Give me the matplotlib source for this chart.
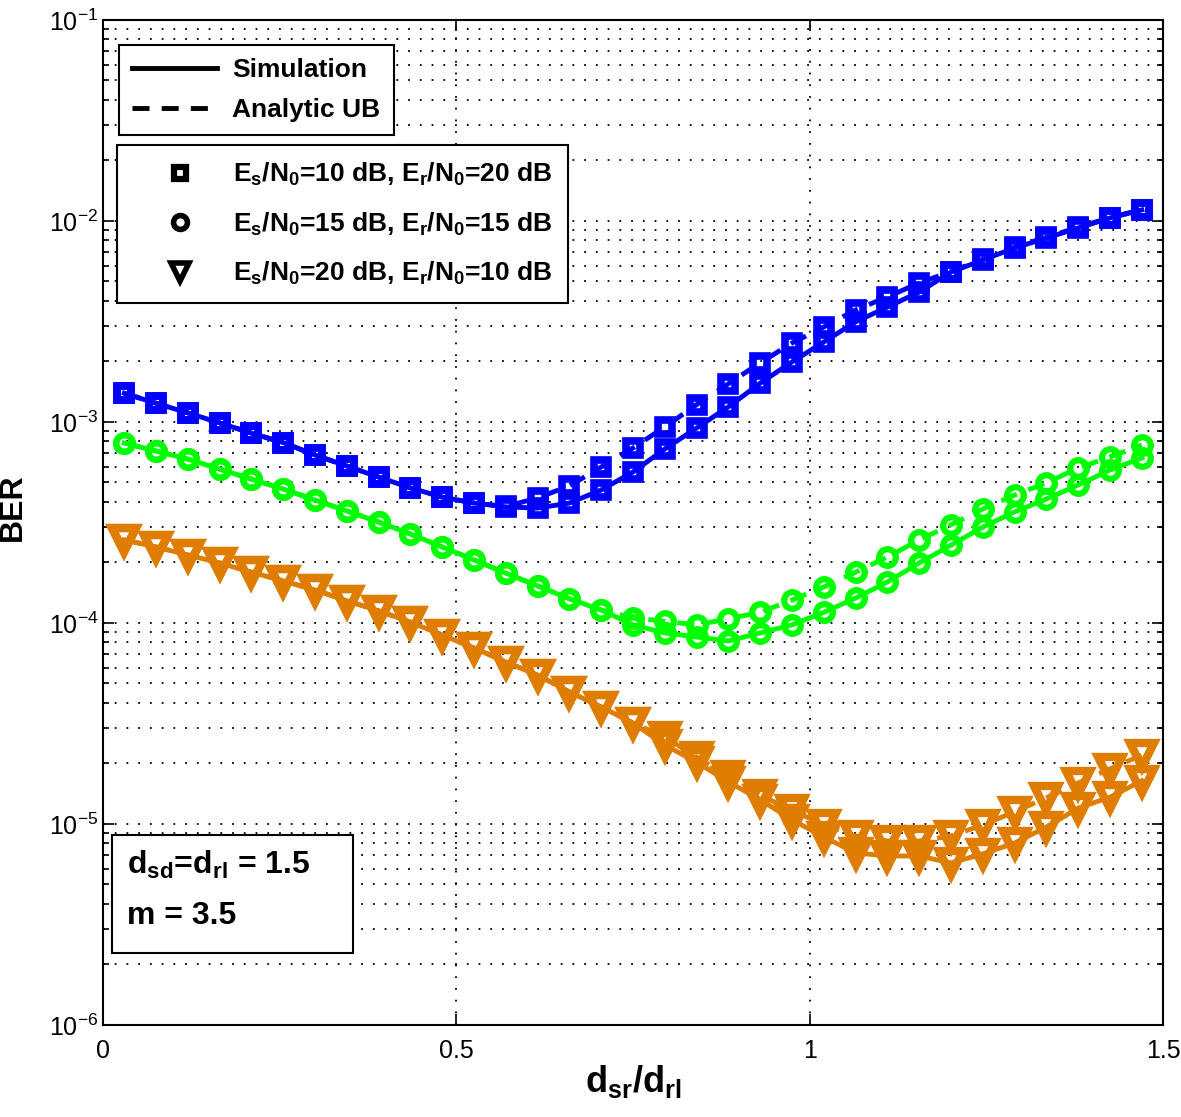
import numpy as np
import matplotlib
matplotlib.use('Agg')
import matplotlib.pyplot as plt
from matplotlib.lines import Line2D
from matplotlib.patches import Rectangle

plt.rcParams['font.family'] = ['Liberation Sans', 'DejaVu Sans']
plt.rcParams['mathtext.fontset'] = 'custom'
plt.rcParams['mathtext.rm'] = 'Liberation Sans'
plt.rcParams['mathtext.bf'] = 'Liberation Sans:bold'
plt.rcParams['mathtext.it'] = 'Liberation Sans:italic'

# distance ratio d_sr/d_rl
d_ratio = [0.03, 0.075, 0.12, 0.165, 0.21, 0.255, 0.30, 0.345, 0.39, 0.435,
           0.48, 0.525, 0.57, 0.615, 0.66, 0.705, 0.75, 0.795, 0.84, 0.885,
           0.93, 0.975, 1.02, 1.065, 1.11, 1.155, 1.20, 1.245, 1.29, 1.335,
           1.38, 1.425, 1.47]

# Es/N0=10 dB, Er/N0=20 dB
blue_sim = [1.39e-3, 1.24e-3, 1.11e-3, 9.9e-4, 8.8e-4, 7.9e-4, 6.85e-4, 6.04e-4,
            5.32e-4, 4.70e-4, 4.23e-4, 3.95e-4, 3.78e-4, 3.73e-4, 3.95e-4, 4.59e-4,
            5.64e-4, 7.34e-4, 9.33e-4, 1.19e-3, 1.56e-3, 1.99e-3, 2.50e-3, 3.15e-3,
            3.73e-3, 4.43e-3, 5.57e-3, 6.40e-3, 7.34e-3, 8.23e-3, 9.23e-3, 1.035e-2,
            1.135e-2]
blue_ub = [1.39e-3, 1.24e-3, 1.11e-3, 9.9e-4, 8.8e-4, 7.9e-4, 6.85e-4, 6.04e-4,
           5.32e-4, 4.70e-4, 4.23e-4, 3.95e-4, 3.80e-4, 4.19e-4, 4.81e-4, 5.97e-4,
           7.43e-4, 9.45e-4, 1.22e-3, 1.55e-3, 1.97e-3, 2.47e-3, 2.97e-3, 3.61e-3,
           4.19e-3, 4.92e-3, 5.60e-3, 6.45e-3, 7.40e-3, 8.30e-3, 9.30e-3, 1.04e-2,
           1.14e-2]

# Es/N0=15 dB, Er/N0=15 dB
green_sim = [7.86e-4, 7.17e-4, 6.54e-4, 5.83e-4, 5.20e-4, 4.64e-4, 4.09e-4, 3.61e-4,
             3.18e-4, 2.77e-4, 2.39e-4, 2.06e-4, 1.77e-4, 1.53e-4, 1.32e-4, 1.16e-4,
             9.78e-5, 8.92e-5, 8.52e-5, 8.14e-5, 8.92e-5, 9.78e-5, 1.13e-4, 1.33e-4,
             1.60e-4, 1.99e-4, 2.44e-4, 3.00e-4, 3.57e-4, 4.14e-4, 4.86e-4, 5.77e-4,
             6.62e-4]
green_ub = [7.86e-4, 7.17e-4, 6.54e-4, 5.83e-4, 5.20e-4, 4.64e-4, 4.09e-4, 3.61e-4,
            3.18e-4, 2.77e-4, 2.39e-4, 2.06e-4, 1.77e-4, 1.53e-4, 1.32e-4, 1.16e-4,
            1.06e-4, 1.02e-4, 9.78e-5, 1.05e-4, 1.13e-4, 1.30e-4, 1.51e-4, 1.79e-4,
            2.13e-4, 2.59e-4, 3.08e-4, 3.69e-4, 4.33e-4, 4.98e-4, 5.90e-4, 6.70e-4,
            7.69e-4]

# Es/N0=20 dB, Er/N0=10 dB
orange_sim = [2.59e-4, 2.39e-4, 2.18e-4, 1.99e-4, 1.79e-4, 1.62e-4, 1.46e-4, 1.29e-4,
              1.15e-4, 1.01e-4, 8.71e-5, 7.51e-5, 6.40e-5, 5.51e-5, 4.54e-5, 3.82e-5,
              3.18e-5, 2.47e-5, 2.03e-5, 1.62e-5, 1.32e-5, 1.05e-5, 8.61e-6, 7.18e-6,
              6.93e-6, 6.93e-6, 6.40e-6, 7.10e-6, 8.04e-6, 9.66e-6, 1.20e-5, 1.36e-5,
              1.64e-5]
orange_ub = [2.59e-4, 2.39e-4, 2.18e-4, 1.99e-4, 1.79e-4, 1.62e-4, 1.46e-4, 1.29e-4,
             1.15e-4, 1.01e-4, 8.71e-5, 7.51e-5, 6.40e-5, 5.51e-5, 4.54e-5, 3.82e-5,
             3.18e-5, 2.71e-5, 2.15e-5, 1.73e-5, 1.39e-5, 1.17e-5, 9.89e-6, 8.71e-6,
             8.23e-6, 8.23e-6, 8.71e-6, 9.89e-6, 1.15e-5, 1.35e-5, 1.60e-5, 1.88e-5,
             2.20e-5]

legend_labels = [r'$\mathbf{E_s/N_0}$=10 dB, $\mathbf{E_r/N_0}$=20 dB',
                 r'$\mathbf{E_s/N_0}$=15 dB, $\mathbf{E_r/N_0}$=15 dB',
                 r'$\mathbf{E_s/N_0}$=20 dB, $\mathbf{E_r/N_0}$=10 dB']

blue = '#0000ff'
green = '#00ff00'
orange = '#de7d00'

fig = plt.figure(figsize=(11.81, 11.17), dpi=100)
ax = fig.add_axes([0.0872, 0.0824, 0.8976, 0.8997])

series = [(blue_sim, blue_ub, blue, 's', 10, 5.5),
          (green_sim, green_ub, green, 'o', 12, 4.5),
          (orange_sim, orange_ub, orange, 'v', 17, 6.0)]

for sim, ub, col, mk, ms, mew in series:
    ax.plot(d_ratio, ub, color=col, lw=3.5, ls='--', dashes=(3.5, 2.5),
            marker=mk, ms=ms, mew=mew, mfc='none', mec=col)
    ax.plot(d_ratio, sim, color=col, lw=3.5, ls='-',
            marker=mk, ms=ms, mew=mew, mfc='none', mec=col)

ax.set_yscale('log')
ax.set_xlim(0, 1.5)
ax.set_ylim(1e-6, 1e-1)
ax.set_xticks([0, 0.5, 1, 1.5])
ax.set_xticklabels(['0', '0.5', '1', '1.5'])

ax.grid(True, which='major', axis='x', color='k', lw=1.3, ls=(0, (1, 5.5)))
ax.grid(True, which='both', axis='y', color='k', lw=1.3, ls=(0, (1, 5.5)))

ax.tick_params(which='both', direction='in', top=True, right=True, labelsize=18, width=1.2)
ax.tick_params(which='major', length=8)
ax.tick_params(which='minor', length=4)
ax.tick_params(axis='x', pad=10)
for sp in ax.spines.values():
    sp.set_linewidth(1.5)

ax.set_ylabel('BER', fontsize=23, fontweight='bold')
ax.yaxis.set_label_coords(-0.0705, 0.515)
ax.set_xlabel(r'd$_{\mathbf{sr}}$/d$_{\mathbf{rl}}$', fontsize=26, fontweight='bold', labelpad=0)

# line style legend
style_handles = [Line2D([], [], color='k', lw=3.5, ls='-'),
                 Line2D([], [], color='k', lw=3.5, ls='--', dashes=(3.5, 2.5))]
leg1 = ax.legend(style_handles, ['Simulation', 'Analytic UB'], loc='upper left',
                 bbox_to_anchor=(0.0151, 0.9751), borderaxespad=0, fancybox=False,
                 edgecolor='k', framealpha=1, prop={'weight': 'bold', 'size': 19},
                 handlelength=3.2, handletextpad=0.6, labelspacing=0.6, borderpad=0.5)
leg1.get_frame().set_linewidth(1.5)
ax.add_artist(leg1)

# marker legend
marker_handles = [Line2D([], [], ls='none', color='k', marker='s', ms=9, mew=4.5, mfc='none'),
                  Line2D([], [], ls='none', color='k', marker='o', ms=10, mew=4.0, mfc='none'),
                  Line2D([], [], ls='none', color='k', marker='v', ms=13, mew=4.0, mfc='none')]
leg2 = ax.legend(marker_handles, legend_labels, loc='upper left',
                 bbox_to_anchor=(0.0132, 0.8756), borderaxespad=0, fancybox=False,
                 edgecolor='k', framealpha=1, prop={'weight': 'bold', 'size': 19},
                 handlelength=3.6, handletextpad=0.2, labelspacing=0.85, borderpad=0.6)
leg2.get_frame().set_linewidth(1.5)

# parameter box
ax.add_patch(Rectangle((0.0085, 0.0716), 0.2274, 0.1174, transform=ax.transAxes,
                       facecolor='white', edgecolor='k', lw=1.5, zorder=5))
ax.text(0.023, 0.150, r'd$_{\mathbf{sd}}$=d$_{\mathbf{rl}}$ = 1.5', transform=ax.transAxes,
        fontsize=23, fontweight='bold', zorder=6, va='baseline')
ax.text(0.023, 0.100, 'm = 3.5', transform=ax.transAxes,
        fontsize=23, fontweight='bold', zorder=6, va='baseline')

fig.savefig('out.png', dpi=100)
